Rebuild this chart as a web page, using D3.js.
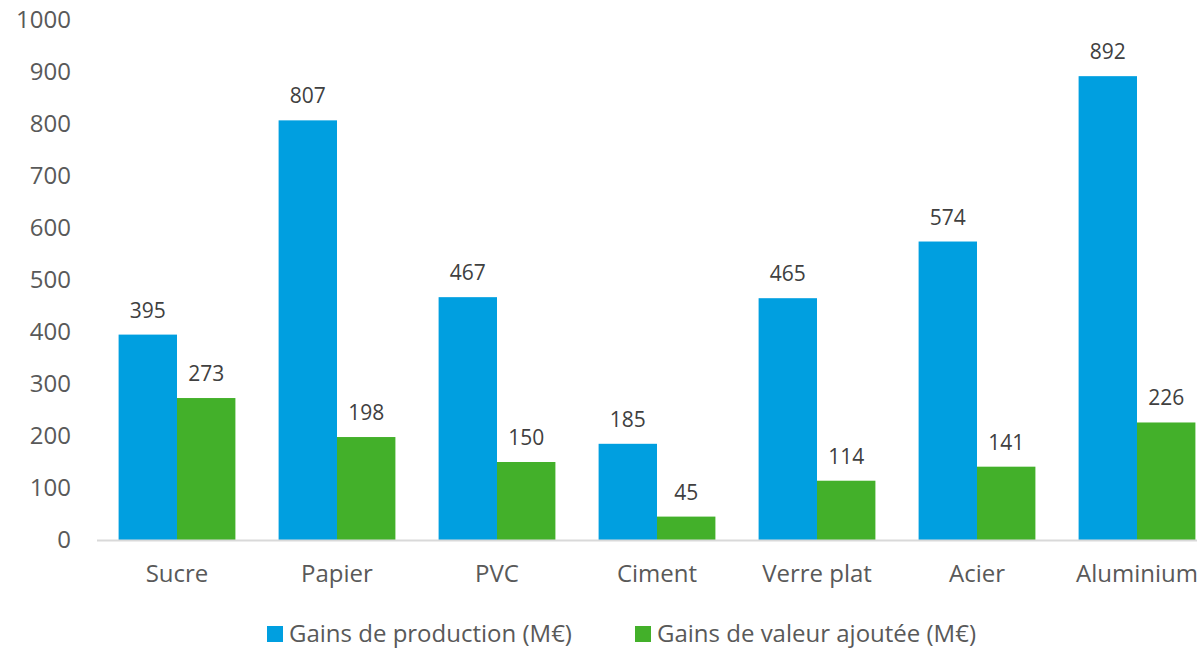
<!DOCTYPE html>
<html>
<head>
<meta charset="utf-8">
<script src="https://cdn.jsdelivr.net/npm/d3@7"></script>
<style>
  body { margin: 0; background: #fff; }
  svg { display: block; font-family: "Open Sans", sans-serif; }
</style>
</head>
<body>
<div id="chart"></div>
<script>
"use strict";

const categories = ["Sucre", "Papier", "PVC", "Ciment", "Verre plat", "Acier", "Aluminium"];
const production = [395, 807, 467, 185, 465, 574, 892];
const valeurAjoutee = [273, 198, 150, 45, 114, 141, 226];
const seriesNames = ["Gains de production (M€)", "Gains de valeur ajoutée (M€)"];
const yTicks = [0, 100, 200, 300, 400, 500, 600, 700, 800, 900, 1000];

const width = 1197;
const height = 648;
const colors = ["#009fe0", "#43b02a"];

const svg = d3
  .select("#chart")
  .append("svg")
  .attr("width", width)
  .attr("height", height);

// échelles
const x = d3
  .scaleBand()
  .domain(categories)
  .range([97, 1217])
  .paddingInner(0.27)
  .paddingOuter(0.135);

const xSub = d3.scaleBand().domain([0, 1]).range([0, x.bandwidth()]);

const y = d3.scaleLinear().domain([0, 1000]).range([540, 20]);

// axe Y (texte seulement)
const yAxis = svg
  .append("g")
  .attr("transform", "translate(71,0)")
  .call(
    d3.axisLeft(y).tickValues(yTicks).tickFormat(d3.format("d")).tickSize(0).tickPadding(0)
  );
yAxis.select(".domain").remove();
yAxis
  .selectAll("text")
  .style("font-family", "Open Sans, sans-serif")
  .style("font-size", "24px")
  .style("fill", "#595959");

// barres
const data = categories.map((c, i) => ({
  cat: c,
  values: [production[i], valeurAjoutee[i]],
}));

const groups = svg
  .append("g")
  .selectAll("g")
  .data(data)
  .join("g")
  .attr("transform", (d) => `translate(${x(d.cat)},0)`);

groups
  .selectAll("rect")
  .data((d) => d.values.map((v, k) => ({ v, k })))
  .join("rect")
  .attr("x", (d) => xSub(d.k))
  .attr("y", (d) => y(d.v))
  .attr("width", xSub.bandwidth())
  .attr("height", (d) => y(0) - y(d.v))
  .attr("fill", (d) => colors[d.k]);

// étiquettes des valeurs
groups
  .selectAll("text")
  .data((d) => d.values.map((v, k) => ({ v, k })))
  .join("text")
  .attr("x", (d) => xSub(d.k) + xSub.bandwidth() / 2)
  .attr("y", (d) => y(d.v) - 17)
  .attr("text-anchor", "middle")
  .style("font-size", "21px")
  .style("fill", "#404040")
  .text((d) => d.v);

// ligne de base
svg
  .append("line")
  .attr("x1", 97)
  .attr("x2", width)
  .attr("y1", y(0) + 0.5)
  .attr("y2", y(0) + 0.5)
  .attr("stroke", "#d9d9d9")
  .attr("stroke-width", 2);

// axe X
const xAxis = svg
  .append("g")
  .attr("transform", `translate(0,${y(0)})`)
  .call(d3.axisBottom(x).tickSize(0).tickPadding(25));
xAxis.select(".domain").remove();
xAxis
  .selectAll("text")
  .style("font-family", "Open Sans, sans-serif")
  .style("font-size", "24px")
  .style("fill", "#595959");

// légende
const legendX = [267, 635];
const legend = svg
  .append("g")
  .selectAll("g")
  .data(seriesNames)
  .join("g")
  .attr("transform", (d, i) => `translate(${legendX[i]},626)`);

legend
  .append("rect")
  .attr("width", 16)
  .attr("height", 16)
  .attr("fill", (d, i) => colors[i]);

legend
  .append("text")
  .attr("x", 22)
  .attr("y", 8)
  .attr("dy", "0.35em")
  .style("font-size", "24px")
  .style("fill", "#595959")
  .text((d) => d);
</script>
</body>
</html>
